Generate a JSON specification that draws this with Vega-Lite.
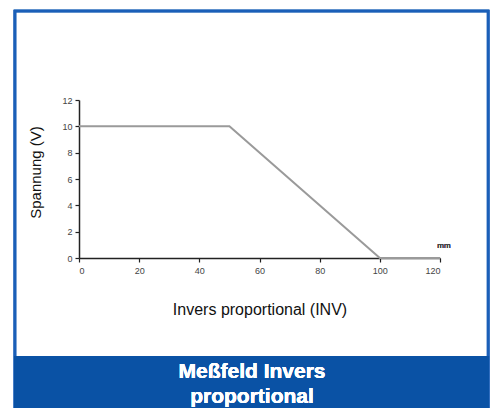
{
  "$schema": "https://vega.github.io/schema/vega-lite/v6.json",
  "width": 361,
  "height": 158,
  "autosize": {"type": "none"},
  "padding": {"left": 79, "top": 100, "right": 53, "bottom": 150},
  "background": "white",
  "config": {
    "view": {"stroke": null},
    "font": "Liberation Sans",
    "axis": {
      "grid": false,
      "domainColor": "#222",
      "domainWidth": 1.5,
      "tickColor": "#222",
      "tickWidth": 1.2,
      "tickSize": 4,
      "labelColor": "#444",
      "labelFontSize": 9,
      "labelOverlap": false,
      "labelFont": "Liberation Sans",
      "titleFont": "Liberation Sans",
      "titleFontWeight": "normal",
      "titleColor": "#111"
    }
  },
  "data": {
    "values": [
      {"mm": 0, "V": 10},
      {"mm": 50, "V": 10},
      {"mm": 100, "V": 0},
      {"mm": 120, "V": 0}
    ]
  },
  "layer": [
    {
      "mark": {"type": "line", "color": "#9a9a9a", "strokeWidth": 2},
      "encoding": {
        "x": {
          "field": "mm",
          "type": "quantitative",
          "scale": {"domain": [0, 120], "nice": false},
          "axis": {"values": [0, 20, 40, 60, 80, 100, 120], "title": "Invers proportional (INV)", "titleFontSize": 16, "titlePadding": 26, "labelPadding": 4, "labelOverlap": false}
        },
        "y": {
          "field": "V",
          "type": "quantitative",
          "scale": {"domain": [0, 12], "nice": false},
          "axis": {"values": [0, 2, 4, 6, 8, 10, 12], "title": "Spannung (V)", "titleFontSize": 15, "titlePadding": 18, "titleY": 72, "titleAlign": "center", "labelPadding": 3, "labelOverlap": false}
        }
      }
    },
    {
      "mark": {"type": "rect", "fill": null, "stroke": "#1a5fb8", "strokeWidth": 2.5, "clip": false},
      "encoding": {
        "x": {"datum": -21.3, "type": "quantitative", "axis": {"values": [0, 20, 40, 60, 80, 100, 120], "title": "Invers proportional (INV)", "titleFontSize": 16, "titlePadding": 26, "labelPadding": 4, "labelOverlap": false}},
        "x2": {"datum": 136.0},
        "y": {"datum": 18.76, "type": "quantitative", "axis": {"values": [0, 2, 4, 6, 8, 10, 12], "title": "Spannung (V)", "titleFontSize": 15, "titlePadding": 18, "titleY": 72, "titleAlign": "center", "labelPadding": 3, "labelOverlap": false}},
        "y2": {"datum": -11.6}
      }
    },
    {
      "mark": {"type": "rect", "fill": "#0a52a5", "stroke": null, "clip": false},
      "encoding": {
        "x": {"datum": -21.6, "type": "quantitative", "axis": {"values": [0, 20, 40, 60, 80, 100, 120], "title": "Invers proportional (INV)", "titleFontSize": 16, "titlePadding": 26, "labelPadding": 4, "labelOverlap": false}},
        "x2": {"datum": 136.3},
        "y": {"datum": -7.44, "type": "quantitative", "axis": {"values": [0, 2, 4, 6, 8, 10, 12], "title": "Spannung (V)", "titleFontSize": 15, "titlePadding": 18, "titleY": 72, "titleAlign": "center", "labelPadding": 3, "labelOverlap": false}},
        "y2": {"datum": -11.6}
      }
    },
    {
      "mark": {"type": "text", "text": "mm", "fontSize": 8, "fontWeight": "normal", "color": "#444", "align": "center", "baseline": "middle", "clip": false},
      "encoding": {
        "x": {"datum": 121.3, "type": "quantitative", "axis": {"values": [0, 20, 40, 60, 80, 100, 120], "title": "Invers proportional (INV)", "titleFontSize": 16, "titlePadding": 26, "labelPadding": 4, "labelOverlap": false}},
        "y": {"datum": 0.91, "type": "quantitative", "axis": {"values": [0, 2, 4, 6, 8, 10, 12], "title": "Spannung (V)", "titleFontSize": 15, "titlePadding": 18, "titleY": 72, "titleAlign": "center", "labelPadding": 3, "labelOverlap": false}}
      }
    },
    {
      "mark": {"type": "text", "text": ["Meßfeld Invers", "proportional"], "fontSize": 21, "fontWeight": "bold", "color": "white", "align": "center", "baseline": "alphabetic", "lineHeight": 25, "clip": false},
      "encoding": {
        "x": {"datum": 57.5, "type": "quantitative", "axis": {"values": [0, 20, 40, 60, 80, 100, 120], "title": "Invers proportional (INV)", "titleFontSize": 16, "titlePadding": 26, "labelPadding": 4, "labelOverlap": false}},
        "y": {"datum": -9.11, "type": "quantitative", "axis": {"values": [0, 2, 4, 6, 8, 10, 12], "title": "Spannung (V)", "titleFontSize": 15, "titlePadding": 18, "titleY": 72, "titleAlign": "center", "labelPadding": 3, "labelOverlap": false}}
      }
    }
  ]
}
